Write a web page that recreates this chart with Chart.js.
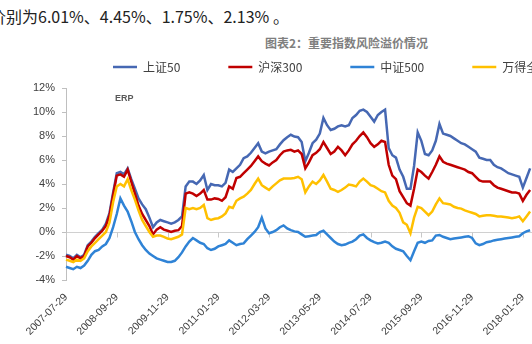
<!DOCTYPE html>
<html>
<head>
<meta charset="utf-8">
<script src="https://cdn.jsdelivr.net/npm/chart.js@4"></script>
<style>
html, body { margin: 0; padding: 0; background: #fff; overflow: hidden; width: 532px; height: 344px; }
#wrap { position: relative; width: 532px; height: 344px; overflow: hidden; }
#note { position: absolute; left: -10px; top: 6px; font: 16px/20px "Noto Sans CJK SC"; color: #222; white-space: nowrap; }
#cap { position: absolute; left: 265px; top: 36px; font: bold 12px/14px "Noto Sans CJK SC"; color: #7f7f7f; white-space: nowrap; }
#erp { position: absolute; left: 115px; top: 93px; font: bold 9px/10px "Liberation Sans"; color: #595959; }
canvas { position: absolute; left: 0; top: 0; }
</style>
</head>
<body>
<div id="wrap">
  <div id="note">价别为6.01%、4.45%、1.75%、2.13% 。</div>
  <div id="cap">图表2：重要指数风险溢价情况</div>
  <canvas id="erpChart" width="640" height="344"></canvas>
  <div id="erp">ERP</div>
</div>
<script>
// 风险溢价, 月度读数 (从 2007-07-29 起)
var seriesNames = ['上证50', '沪深300', '中证500', '万得全A'];
var tickLabels = ['2007-07-29', '2008-09-29', '2009-11-29', '2011-01-29', '2012-03-29',
                  '2013-05-29', '2014-07-29', '2015-09-29', '2016-11-29', '2018-01-29'];

var sz50 = [-1.9,-2.0,-2.2,-1.9,-2.1,-1.9,-1.1,-0.8,-0.4,-0.1,
  0.2,0.7,1.6,3.3,4.9,5.0,4.8,5.3,4.4,3.6,
  2.8,2.3,1.9,1.2,0.4,0.8,1.0,0.9,0.8,0.7,
  0.8,1.0,1.3,3.8,4.2,4.2,4.0,4.3,4.75,3.5,
  4.0,3.9,3.9,3.8,4.1,5.2,5.0,5.3,5.6,6.15,
  6.3,6.6,7.0,7.4,6.7,6.55,6.7,6.8,6.9,7.3,
  7.65,7.9,8.1,7.95,7.9,7.5,5.9,6.6,7.4,7.7,
  8.2,9.5,8.9,8.5,8.6,8.8,8.9,8.8,8.9,9.5,
  9.75,10.1,10.2,10.0,9.6,9.2,9.75,10.0,10.2,7.0,
  6.4,6.2,5.2,4.6,3.6,3.6,5.5,8.3,7.6,6.5,
  6.4,6.8,7.6,9.0,8.2,8.1,8.0,7.8,7.6,7.4,
  7.3,7.1,6.9,6.7,6.2,6.1,6.0,6.0,5.6,5.4,
  5.3,5.1,4.9,4.8,4.7,4.6,3.7,4.5,5.3];

var hs300 = [-2.0,-2.1,-2.3,-2.0,-2.2,-2.0,-1.2,-0.9,-0.5,-0.2,
  0.1,0.5,1.4,3.1,4.7,4.8,4.6,5.2,4.2,3.2,
  2.2,1.5,1.0,0.5,-0.2,0.2,0.4,0.2,0.1,0.0,
  0.1,0.15,0.5,3.2,3.3,3.2,3.0,3.2,3.5,2.7,
  2.7,2.8,2.75,2.6,2.9,3.8,3.6,4.5,4.6,4.9,
  5.2,5.5,5.9,6.3,5.9,5.7,5.55,5.8,6.0,6.4,
  6.7,6.8,6.85,6.7,6.8,6.5,5.3,5.8,6.4,6.6,
  6.9,7.5,7.0,6.5,6.7,7.1,6.8,6.4,6.8,7.3,
  7.6,8.0,8.3,7.9,7.4,7.1,7.3,7.6,7.5,5.6,
  4.7,4.4,3.4,2.9,2.4,2.2,3.6,5.2,5.0,4.7,
  4.45,5.0,5.6,6.3,5.85,5.7,5.6,5.5,5.4,5.3,
  5.2,5.0,4.9,4.6,4.3,4.2,4.2,4.2,3.9,3.7,
  3.6,3.5,3.4,3.3,3.3,3.2,2.6,3.1,3.5];

var zz500 = [-2.9,-3.0,-3.1,-2.9,-3.0,-2.8,-2.4,-1.9,-1.6,-1.5,
  -1.2,-1.0,-0.5,0.4,1.5,2.8,2.2,1.7,0.9,0.0,
  -0.6,-1.1,-1.5,-1.8,-2.0,-2.2,-2.3,-2.4,-2.5,-2.5,
  -2.4,-2.1,-1.7,-1.2,-0.8,-0.5,-0.7,-0.9,-1.0,-1.35,
  -1.5,-1.4,-1.2,-1.1,-1.0,-0.7,-0.9,-1.1,-1.0,-0.95,
  -0.6,-0.3,0.0,0.4,1.2,0.3,-0.1,0.0,0.15,0.4,
  0.55,0.3,0.15,0.05,0.0,-0.2,-0.4,-0.35,-0.3,-0.25,
  0.0,0.1,-0.2,-0.5,-0.8,-1.0,-1.1,-1.05,-0.9,-0.8,
  -0.6,-0.3,-0.2,-0.5,-0.7,-0.85,-0.95,-0.9,-0.8,-0.9,
  -1.2,-1.4,-1.5,-1.6,-2.0,-2.35,-1.6,-0.9,-0.8,-0.9,
  -0.75,-0.7,-0.3,-0.25,-0.4,-0.5,-0.6,-0.55,-0.5,-0.45,
  -0.4,-0.35,-0.5,-0.95,-1.1,-1.0,-0.85,-0.8,-0.7,-0.65,
  -0.6,-0.55,-0.5,-0.45,-0.4,-0.35,-0.1,0.05,0.15];

var wdqa = [-2.3,-2.4,-2.5,-2.3,-2.4,-2.2,-1.6,-1.2,-0.9,-0.6,
  -0.3,0.0,0.8,2.5,3.8,4.0,3.8,4.4,3.5,2.7,
  1.8,1.0,0.5,0.0,-0.4,-0.3,-0.3,-0.4,-0.55,-0.6,
  -0.5,-0.4,-0.2,2.0,1.9,2.0,1.9,2.0,2.25,1.15,
  1.0,1.1,1.15,1.3,1.55,2.1,2.0,2.6,2.8,2.95,
  3.2,3.5,4.0,4.45,3.9,3.7,3.5,3.8,4.05,4.3,
  4.45,4.45,4.45,4.5,4.6,4.4,3.3,3.8,4.2,4.0,
  4.3,4.75,4.2,3.6,3.5,3.35,3.5,3.7,3.95,3.9,
  3.8,4.2,4.45,4.2,3.9,3.8,3.6,3.4,3.3,2.6,
  2.2,2.0,1.6,0.8,0.6,-0.1,1.2,2.1,2.0,1.7,
  1.4,1.7,2.3,2.8,2.4,2.35,2.3,2.1,2.0,1.95,
  1.8,1.7,1.6,1.5,1.3,1.35,1.4,1.4,1.35,1.3,
  1.3,1.25,1.2,1.15,1.2,1.3,0.9,1.3,1.7];

var colors = ['#4668B3', '#C00000', '#2F83D6', '#FFC000'];

// month categories, the axis runs on past the visible crop
var months = [];
for (var i = 0; i < 156; i++) {
  var d = new Date(2007, 6 + i, 1);
  months.push(d.getFullYear() + '-' + String(d.getMonth() + 1).padStart(2, '0') + '-29');
}

var layoutFix = {
  id: 'layoutFix',
  beforeInit: function(chart) {
    var fit = chart.legend.fit;
    chart.legend.fit = function() { fit.call(this); this.height = 75; };
  },
  afterLayout: function(chart) {
    // legend starts further right than the plot, like the excel chart
    chart.legend.left = 65;
    chart.legend.right = 700;
  },
  beforeDatasetsDraw: function(chart) {
    var xs = chart.scales.x, ys = chart.scales.y, ctx = chart.ctx;
    var y0 = Math.round(ys.getPixelForValue(0)) + 0.5;
    ctx.save();
    ctx.strokeStyle = '#c8c8c8';
    ctx.lineWidth = 1;
    months.forEach(function(m, i) {
      if (tickLabels.indexOf(m) >= 0) {
        var px = Math.round(xs.getPixelForValue(i)) + 0.5;
        ctx.beginPath();
        ctx.moveTo(px, y0);
        ctx.lineTo(px, y0 + 5);
        ctx.stroke();
      }
    });
    ctx.restore();
  }
};

var series = [sz50, hs300, zz500, wdqa];
var datasets = series.map(function(s, k) {
  return {
    label: seriesNames[k],
    data: s,
    borderColor: colors[k],
    backgroundColor: colors[k],
    borderWidth: 2.5,
    pointRadius: 0,
    fill: false,
    order: 4 - k
  };
});

new Chart(document.getElementById('erpChart'), {
  type: 'line',
  data: { labels: months, datasets: datasets },
  plugins: [layoutFix],
  options: {
    responsive: false,
    animation: false,
    layout: { padding: { left: 10, right: 12, top: 13, bottom: 0 } },
    plugins: {
      tooltip: { enabled: false },
      legend: {
        position: 'top',
        align: 'start',
        labels: {
          usePointStyle: true,
          pointStyle: 'line',
          pointStyleWidth: 24,
          boxHeight: 12,
          padding: 48,
          color: '#404040',
          font: { family: 'Noto Sans CJK SC', size: 12 },
          sort: function(a, b) { return a.datasetIndex - b.datasetIndex; }
        }
      }
    },
    scales: {
      x: {
        type: 'category',
        grid: { display: false },
        border: { display: false },
        ticks: {
          autoSkip: false,
          minRotation: 45,
          maxRotation: 45,
          padding: 3,
          color: '#404040',
          font: { family: 'Liberation Sans', size: 10.5 },
          callback: function(v) {
            var l = months[v];
            return tickLabels.indexOf(l) >= 0 ? l : null;
          }
        },
        afterFit: function(s) { s.height = 64; }
      },
      y: {
        min: -4,
        max: 12,
        ticks: {
          stepSize: 2,
          padding: 7,
          color: '#404040',
          font: { family: 'Liberation Sans', size: 11 },
          callback: function(v) { return v + '%'; }
        },
        grid: {
          color: function(c) { return c.tick && c.tick.value === 0 ? '#d0d0d0' : 'rgba(0,0,0,0)'; },
          tickColor: '#bfbfbf',
          tickLength: 4
        },
        border: { display: true, color: '#bfbfbf' },
        afterFit: function(s) { s.width = 56; }
      }
    }
  }
});
</script>
</body>
</html>
